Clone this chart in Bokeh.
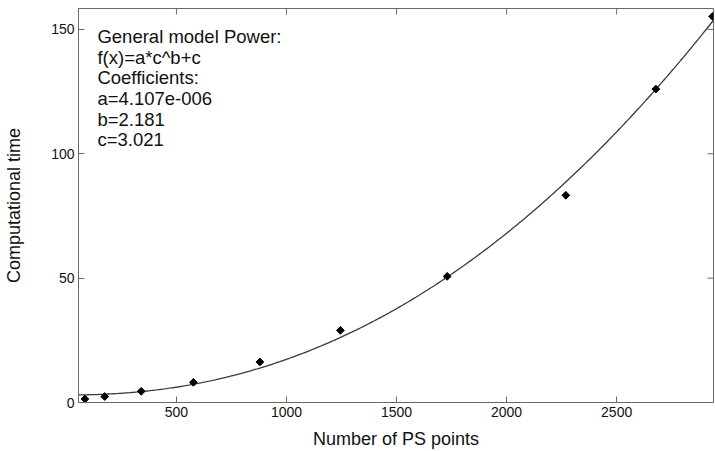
import numpy as np
from bokeh.plotting import figure
from bokeh.models import Range1d, FixedTicker, Label
from bokeh.embed import file_html
from bokeh.resources import INLINE

# Measured computational time versus number of PS points
ps_points = [84, 174, 340, 577, 879, 1245, 1730, 2269, 2678, 2936]
comp_time = [1.4, 2.4, 4.5, 8.1, 16.3, 29.0, 50.7, 83.3, 126.0, 155.2]

# Power-model fit f(x) = a*x^b + c
coef_a = 4.107e-6
coef_b = 2.181
coef_c = 3.021

x_ticks = [500, 1000, 1500, 2000, 2500]
y_ticks = [0, 50, 100, 150]

fit_text = [
    "General model Power:",
    "f(x)=a*c^b+c",
    "Coefficients:",
    "a=4.107e-006",
    "b=2.181",
    "c=3.021",
]

FONT = "Liberation Sans"
AXIS_GRAY = "#6a6a6a"
X_MIN, X_MAX = 55, 2940
Y_MIN, Y_MAX = 0, 158.4

p = figure(width=715, height=451, output_backend="svg", toolbar_location=None,
           x_range=Range1d(X_MIN, X_MAX), y_range=Range1d(Y_MIN, Y_MAX),
           min_border_left=78, min_border_right=2, min_border_top=8, min_border_bottom=47)
p.xgrid.visible = False
p.ygrid.visible = False
p.outline_line_color = AXIS_GRAY
p.background_fill_color = "white"
p.border_fill_color = "white"

for ax in (p.xaxis[0], p.yaxis[0]):
    ax.axis_line_color = AXIS_GRAY
    ax.major_tick_line_color = AXIS_GRAY
    ax.major_tick_in = 6
    ax.major_tick_out = 0
    ax.minor_tick_line_color = None
    ax.major_label_text_font = FONT
    ax.major_label_text_color = "#111111"
    ax.major_label_text_font_size = "14px"
    ax.major_label_standoff = 4
    ax.axis_label_text_font = FONT
    ax.axis_label_text_font_style = "normal"
    ax.axis_label_text_color = "#111111"
    ax.axis_label_text_font_size = "18px"

p.xaxis.ticker = FixedTicker(ticks=x_ticks)
p.yaxis.ticker = FixedTicker(ticks=y_ticks)
p.xaxis.axis_label = "Number of PS points"
p.yaxis.axis_label = "Computational time"
p.xaxis.axis_label_standoff = 9
p.yaxis.axis_label_standoff = 24

# Inward ticks on the top and right edges of the box (clipped to the frame)
p.scatter(x=x_ticks, y=[Y_MAX] * len(x_ticks), marker="dash", angle=np.pi / 2,
          size=12, line_color=AXIS_GRAY, line_width=1)
p.scatter(x=[X_MAX] * len(y_ticks), y=y_ticks, marker="dash",
          size=12, line_color=AXIS_GRAY, line_width=1)

# Fitted curve drawn from the stated coefficients
xs = np.linspace(X_MIN, X_MAX, 400)
ys = coef_a * xs ** coef_b + coef_c
p.line(xs, ys, line_color="#3a3a3a", line_width=1.3)

# Measured points
p.scatter(ps_points, comp_time, marker="square", angle=np.pi / 4, size=5.5,
          fill_color="black", line_color="black")

# Fit description text
for i, line in enumerate(fit_text):
    p.add_layout(Label(x=141, y=147.2 - i * 8.33, text=line, text_font=FONT,
                       text_font_size="18.5px", text_color="#111111", text_baseline="middle"))

open("out.html", "w").write(file_html(p, INLINE))
